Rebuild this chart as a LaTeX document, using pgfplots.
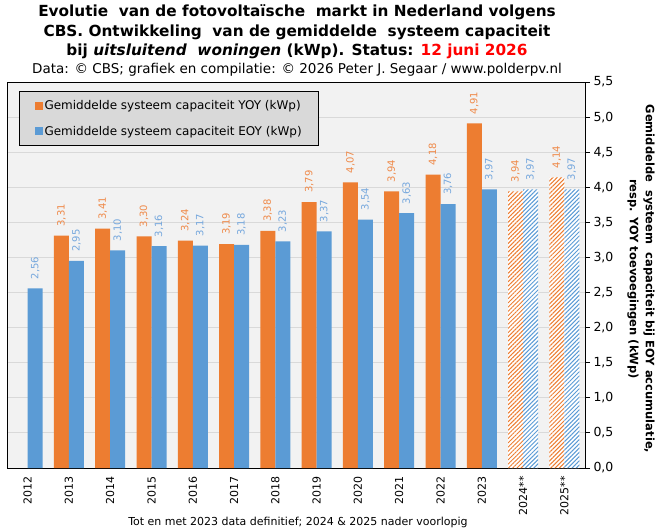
\documentclass[border=0pt]{standalone}
\usepackage{fontspec}
\setmainfont{DejaVu Sans}
\usepackage{pgfplots}
\pgfplotsset{compat=1.18}
\usetikzlibrary{patterns.meta}
\definecolor{orangeC}{HTML}{ED7D31}
\definecolor{blueC}{HTML}{5B9BD5}
\definecolor{orangeL}{HTML}{EF8A4A}
\definecolor{blueL}{HTML}{75A7DD}
\definecolor{plotbg}{HTML}{F2F2F2}
\definecolor{gridC}{HTML}{D9D9D9}
\definecolor{legbg}{HTML}{D9D9D9}
\definecolor{dateRed}{HTML}{FF0000}
\pgfplotsset{
  vlab/.style 2 args={
    point meta=y,
    nodes near coords={\pgfmathprintnumber[fixed,fixed zerofill,precision=2,use comma,assume math mode=true]{\pgfplotspointmeta}},
    every node near coord/.append style={xshift=#2, rotate=90, anchor=west, font=\fontsize{10bp}{12bp}\selectfont, text=#1, inner xsep=9bp, inner ysep=0bp}
  }
}
\begin{document}
\begin{tikzpicture}
\fill[white] (0bp,0bp) rectangle (665bp,531bp);
\path[use as bounding box] (0bp,0bp) rectangle (665bp,531bp);
% titles
\begin{scope}[every node/.style={inner sep=0pt, anchor=base}]
\node[font=\fontsize{15.3bp}{17bp}\selectfont\bfseries] at (297bp,514bp) {Evolutie\ \ van de fotovoltaïsche\ \ markt in Nederland volgens};
\node[font=\fontsize{15.3bp}{17bp}\selectfont\bfseries] at (297bp,494bp) {CBS. Ontwikkeling\ \ van de gemiddelde\ \ systeem capaciteit};
\node[font=\fontsize{15.3bp}{17bp}\selectfont\bfseries] at (297bp,475bp) {bij \textit{uitsluitend\ \ woningen} (kWp). Status: \textcolor{dateRed}{12 juni 2026}};
\node[font=\fontsize{13.5bp}{14bp}\selectfont] at (297bp,457bp) {Data: © CBS; grafiek en compilatie: © 2026 Peter J. Segaar / www.polderpv.nl};
\node[font=\fontsize{11bp}{12bp}\selectfont] at (298bp,6bp) {Tot en met 2023 data definitief; 2024 \& 2025 nader voorlopig};
\end{scope}
\node[rotate=-90, align=center, font=\fontsize{11.5bp}{16bp}\selectfont\bfseries, inner sep=0pt] at (641bp,252bp) {Gemiddelde\ \ systeem\ \ capaciteit bij EOY accumulatie,\\resp. YOY toevoegingen (kWp)};
\begin{axis}[
  at={(7bp,63bp)}, anchor=south west,
  scale only axis, width=578bp, height=386bp,
  xmin=-0.5, xmax=13.5, ymin=0, ymax=5.5,
  axis background/.style={fill=plotbg},
  axis line style={line width=1bp, black},
  xtick={0,1,2,3,4,5,6,7,8,9,10,11,12,13},
  xticklabels={2012,2013,2014,2015,2016,2017,2018,2019,2020,2021,2022,2023,2024**,2025**},
  x tick label style={rotate=90, anchor=east, font=\fontsize{11bp}{12bp}\selectfont, inner sep=3bp},
  xtick style={draw=none},
  xtick pos=bottom,
  ytick={0,0.5,1,1.5,2,2.5,3,3.5,4,4.5,5,5.5},
  ytick pos=right, yticklabel pos=right,
  ytick style={black, line width=1bp},
  tick align=outside, major tick length=5bp,
  y tick label style={font=\fontsize{12.5bp}{14bp}\selectfont, /pgf/number format/.cd, fixed, fixed zerofill, precision=1, use comma, assume math mode=true},
  ymajorgrids, major grid style={gridC, line width=1bp},
  legend cell align=left,
  legend style={at={(0.0208,0.977)}, anchor=north west, fill=legbg, draw=black, line width=1bp,
    font=\fontsize{12bp}{14bp}\selectfont, inner xsep=15bp, inner ysep=8bp, row sep=13bp,
    nodes={inner xsep=2bp, inner ysep=1bp}},
  clip=false,
]
\addlegendimage{legend image code/.code={\fill[orangeC] (0bp,-3.5bp) rectangle (7bp,3.5bp);}}
\addlegendentry{Gemiddelde systeem capaciteit YOY (kWp)}
\addlegendimage{legend image code/.code={\fill[blueC] (0bp,-3.5bp) rectangle (7bp,3.5bp);}}
\addlegendentry{Gemiddelde systeem capaciteit EOY (kWp)}

% YOY (orange)
\addplot[ybar, bar width=15bp, bar shift=-7.5bp, fill=orangeC, draw=none, forget plot, vlab={orangeL}{-7.5bp}]
  coordinates {(1,3.31) (2,3.41) (3,3.30) (4,3.24) (5,3.19) (6,3.38) (7,3.79) (8,4.07) (9,3.94) (10,4.18) (11,4.91)};
% EOY (blue)
\addplot[ybar, bar width=15bp, bar shift=7.5bp, fill=blueC, draw=none, forget plot, vlab={blueL}{7.5bp}]
  coordinates {(0,2.56) (1,2.95) (2,3.10) (3,3.16) (4,3.17) (5,3.18) (6,3.23) (7,3.37) (8,3.54) (9,3.63) (10,3.76) (11,3.97)};
% provisional (hatched)
\addplot[ybar, bar width=15bp, bar shift=-7.5bp, fill=white, draw=none, forget plot, vlab={orangeL}{-7.5bp},
  postaction={pattern={Lines[angle=45, distance=3bp, line width=1bp]}, pattern color=orangeC}]
  coordinates {(12,3.94) (13,4.14)};
\addplot[ybar, bar width=15bp, bar shift=7.5bp, fill=white, draw=none, forget plot, vlab={blueL}{7.5bp},
  postaction={pattern={Lines[angle=45, distance=3bp, line width=1bp]}, pattern color=blueC}]
  coordinates {(12,3.97) (13,3.97)};
\end{axis}
\end{tikzpicture}
\end{document}
